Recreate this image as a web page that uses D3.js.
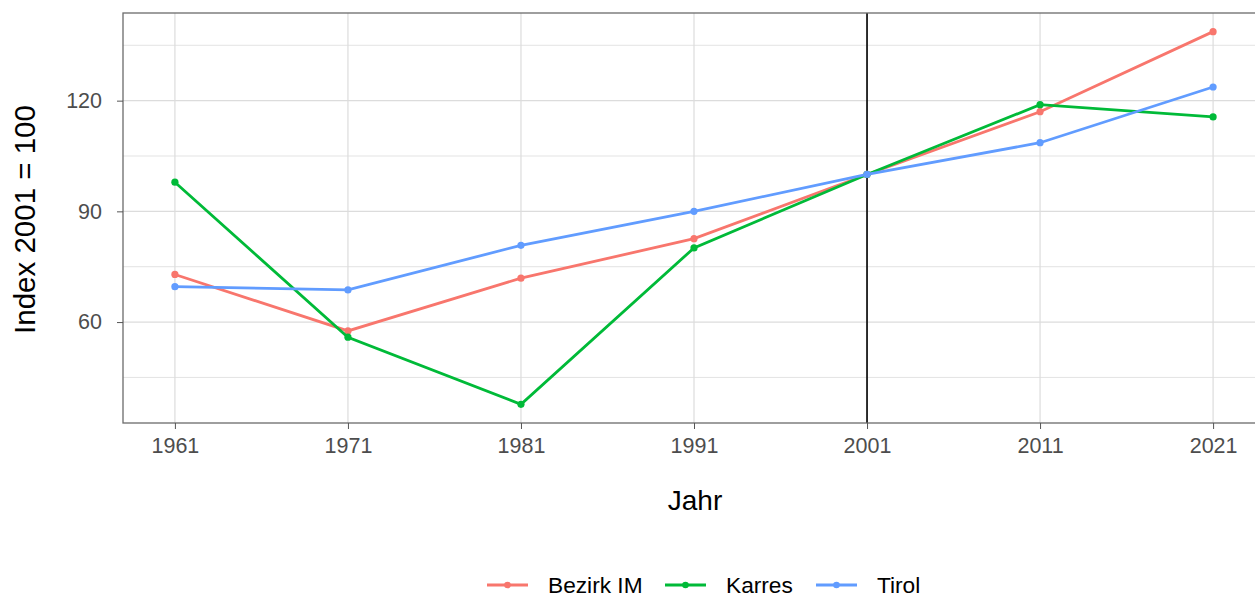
<!DOCTYPE html>
<html>
<head>
<meta charset="utf-8">
<script src="https://cdn.jsdelivr.net/npm/d3@7"></script>
<style>
  body { margin: 0; background: #fff; }
  svg { font-family: "Liberation Sans", Arial, sans-serif; }
</style>
</head>
<body>
<svg id="chart"></svg>
<script>
// ── Data ────────────────────────────────────────────────────────────────
const years   = [1961, 1971, 1981, 1991, 2001, 2011, 2021];
const bezirk  = [72.9, 57.6, 71.9, 82.6, 100, 117.0, 138.7];
const karres  = [97.9, 55.9, 37.7, 80.1, 100, 118.9, 115.6];
const tirol   = [69.6, 68.7, 80.8, 90.0, 100, 108.6, 123.7];
const seriesNames  = ["Bezirk IM", "Karres", "Tirol"];
const seriesColors = ["#F8766D", "#00BA38", "#619CFF"];
const yTicks  = [60, 90, 120];
const yMinor  = [45, 75, 105, 135];
const refYear = 2001;

const W = 1255, H = 598;
const margin = { top: 13, right: -10, bottom: 175, left: 123 };
const w = W - margin.left - margin.right;
const h = H - margin.top - margin.bottom;

const root = d3.select("#chart").attr("width", W).attr("height", H);
const svg = root.append("g").attr("transform", `translate(${margin.left},${margin.top})`);

const series = [bezirk, karres, tirol].map((vals, i) => ({
    name: seriesNames[i], color: seriesColors[i],
    values: years.map((y, j) => ({ year: y, value: vals[j] }))
}));

// ── Scales (ggplot-style 5% expansion) ──────────────────────────────────
const allVals = [].concat(bezirk, karres, tirol);
const yMin = d3.min(allVals), yMax = d3.max(allVals);
const yPad = (yMax - yMin) * 0.05;
const xPad = (years[years.length - 1] - years[0]) * 0.05;

const x = d3.scaleLinear()
    .domain([years[0] - xPad, years[years.length - 1] + xPad])
    .range([0, w]);
const y = d3.scaleLinear()
    .domain([yMin - yPad, yMax + yPad])
    .range([h, 0]);

// ── Gridlines ───────────────────────────────────────────────────────────
svg.append("g").selectAll("line").data(yMinor).join("line")
    .attr("x1", 0).attr("x2", w)
    .attr("y1", d => y(d)).attr("y2", d => y(d))
    .attr("stroke", "#e3e3e3").attr("stroke-width", 1);
svg.append("g").selectAll("line").data(yTicks).join("line")
    .attr("x1", 0).attr("x2", w)
    .attr("y1", d => y(d)).attr("y2", d => y(d))
    .attr("stroke", "#dcdcdc").attr("stroke-width", 1.2);
svg.append("g").selectAll("line").data(years).join("line")
    .attr("x1", d => x(d)).attr("x2", d => x(d))
    .attr("y1", 0).attr("y2", h)
    .attr("stroke", "#dcdcdc").attr("stroke-width", 1.2);

// ── Reference line ──────────────────────────────────────────────────────
svg.append("line")
    .attr("x1", x(refYear)).attr("x2", x(refYear))
    .attr("y1", 0).attr("y2", h)
    .attr("stroke", "#000").attr("stroke-width", 1.6);

// ── Lines + points ──────────────────────────────────────────────────────
const line = d3.line().x(d => x(d.year)).y(d => y(d.value));
series.forEach(s => {
    svg.append("path")
        .datum(s.values)
        .attr("fill", "none")
        .attr("stroke", s.color)
        .attr("stroke-width", 2.8)
        .attr("d", line);
    svg.append("g").selectAll("circle").data(s.values).join("circle")
        .attr("cx", d => x(d.year)).attr("cy", d => y(d.value))
        .attr("r", 3.6).attr("fill", s.color);
});

// ── Panel border ────────────────────────────────────────────────────────
svg.append("rect")
    .attr("x", 0).attr("y", 0).attr("width", w).attr("height", h)
    .attr("fill", "none").attr("stroke", "#6b6b6b").attr("stroke-width", 1.3);

// ── Axes ────────────────────────────────────────────────────────────────
const xAxis = svg.append("g")
    .attr("transform", `translate(0,${h})`)
    .call(d3.axisBottom(x).tickValues(years).tickFormat(d3.format("d")).tickSize(6).tickPadding(9));
xAxis.select(".domain").remove();
xAxis.selectAll("line").attr("stroke", "#555");
xAxis.selectAll("text").attr("font-size", 21.5).attr("fill", "#4d4d4d");

const yAxis = svg.append("g")
    .call(d3.axisLeft(y).tickValues(yTicks).tickSize(6).tickPadding(15));
yAxis.select(".domain").remove();
yAxis.selectAll("line").attr("stroke", "#555");
yAxis.selectAll("text").attr("font-size", 21.5).attr("fill", "#4d4d4d");

// ── Axis titles ─────────────────────────────────────────────────────────
root.append("text")
    .attr("x", 695).attr("y", 510)
    .attr("text-anchor", "middle")
    .attr("font-size", 28).attr("fill", "#000")
    .text("Jahr");

root.append("text")
    .attr("transform", "rotate(-90)")
    .attr("x", -219.5).attr("y", 35)
    .attr("text-anchor", "middle")
    .attr("font-size", 29.5).attr("fill", "#000")
    .text("Index 2001 = 100");

// ── Legend ──────────────────────────────────────────────────────────────
const legendX = [487, 665, 816];
const legend = root.append("g");
series.forEach((s, i) => {
    const g = legend.append("g").attr("transform", `translate(${legendX[i]},585)`);
    g.append("line").attr("x1", 0).attr("x2", 41).attr("y1", 0).attr("y2", 0)
        .attr("stroke", s.color).attr("stroke-width", 2.8);
    g.append("circle").attr("cx", 20.5).attr("cy", 0).attr("r", 3.3).attr("fill", s.color);
    g.append("text").attr("x", 61).attr("y", 8)
        .attr("font-size", 22.7).attr("fill", "#000")
        .text(s.name);
});
</script>
</body>
</html>
